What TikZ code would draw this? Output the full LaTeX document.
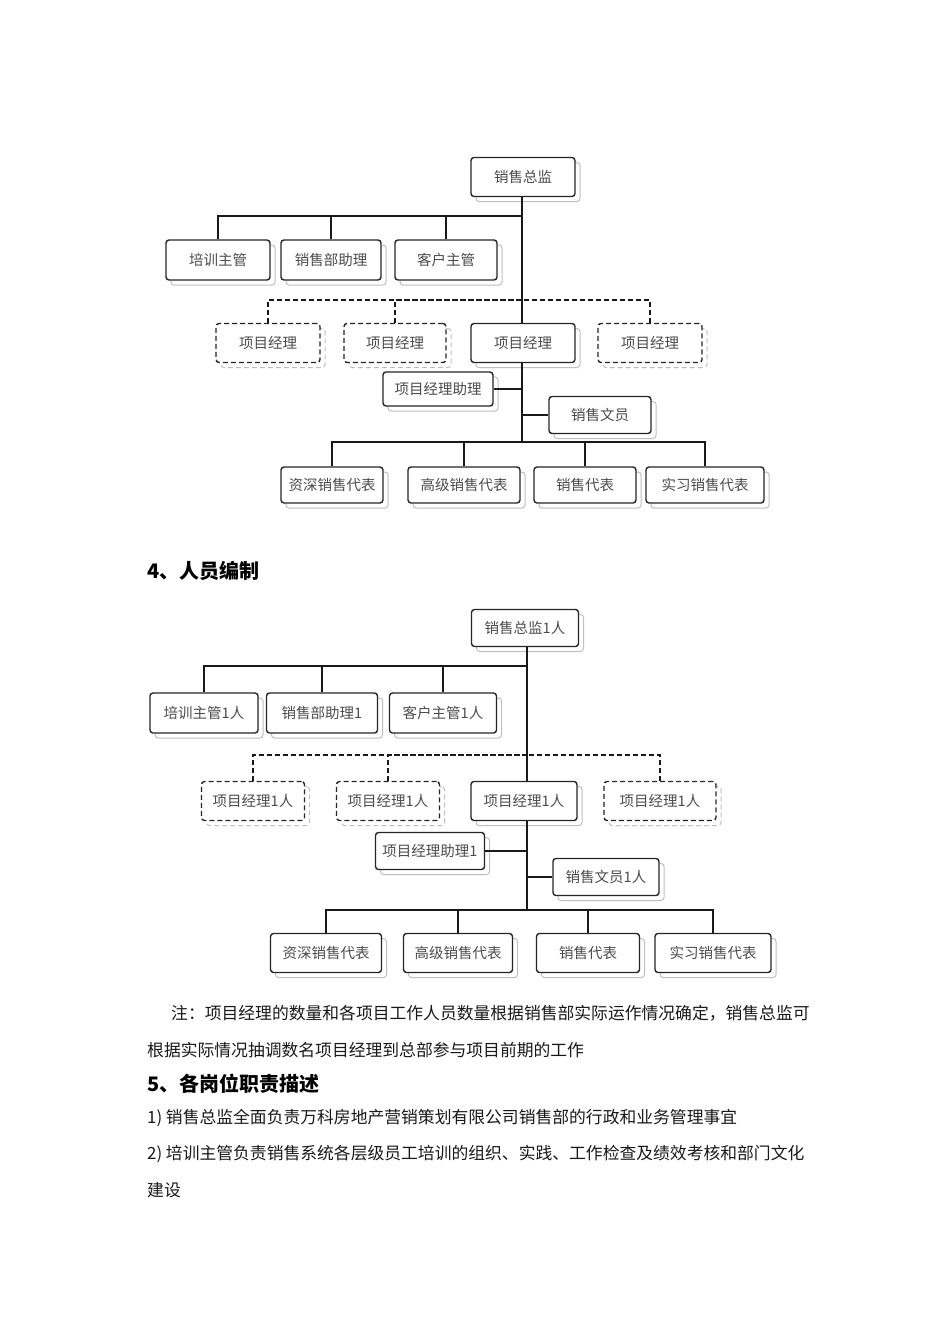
\documentclass[tikz,border=0pt]{standalone}
\usepackage{fontspec}
\setmainfont{Noto Sans CJK SC}
\newfontfamily\hei{Noto Sans CJK SC}
\usetikzlibrary{shadows}
\begin{document}
\begin{tikzpicture}[x=1pt,y=-1pt,
  box/.style={draw=black!85,line width=1.4pt,rounded corners=3pt,fill=white,
    text=black!70,font=\fontsize{14.5}{15}\selectfont,inner sep=0pt,
    drop shadow={shadow xshift=5pt,shadow yshift=-5pt,fill=none,draw=black!25,line width=1pt,opacity=1}},
  dbox/.style={box,dashed,dash pattern=on 5pt off 3pt},
  con/.style={draw=black!90,line width=1.4pt},
  dcon/.style={con,dash pattern=on 5pt off 3pt},
  body/.style={anchor=base west,inner sep=0pt,font=\fontsize{16.8}{17}\selectfont,text=black!90},
  head/.style={anchor=base west,inner sep=0pt,font=\hei\bfseries\fontsize{20}{22}\selectfont}]
\useasboundingbox (0,0) rectangle (950,1344);
\fill[white] (0,0) rectangle (950,1344);

% ---------- chart 1 ----------
\node[box,minimum width=104,minimum height=39] (a0) at (523,177) {销售总监};
\node[box,minimum width=104,minimum height=40] (a1) at (218,260) {培训主管};
\node[box,minimum width=100,minimum height=40] (a2) at (331,260) {销售部助理};
\node[box,minimum width=102,minimum height=40] (a3) at (446,260) {客户主管};
\node[dbox,minimum width=104,minimum height=39] (p1) at (268,343) {项目经理};
\node[dbox,minimum width=102,minimum height=39] (p2) at (395,343) {项目经理};
\node[box,minimum width=104,minimum height=39] (p3) at (523,343) {项目经理};
\node[dbox,minimum width=104,minimum height=39] (p4) at (650,343) {项目经理};
\node[box,minimum width=110,minimum height=34] (as) at (438,389) {项目经理助理};
\node[box,minimum width=102,minimum height=37] (cl) at (600,415) {销售文员};
\node[box,minimum width=102,minimum height=36] (r1) at (332,485) {资深销售代表};
\node[box,minimum width=112,minimum height=36] (r2) at (464,485) {高级销售代表};
\node[box,minimum width=102,minimum height=36] (r3) at (585,485) {销售代表};
\node[box,minimum width=118,minimum height=36] (r4) at (705,485) {实习销售代表};
\coordinate (j1) at (522,216);
\coordinate (j2) at (522,300);
\coordinate (j3) at (522,442);
\draw[con] (a0.south -| j1) -- (p3.north -| j1);
\draw[con] (p3.south -| j1) -- (j3);
\draw[con] (a1.north) |- (j1);
\draw[con] (a2.north) |- (j1);
\draw[con] (a3.north) |- (j1);
\draw[dcon] (p1.north) |- (j2);
\draw[dcon] (p2.north) |- (j2);
\draw[dcon] (p4.north) |- (j2);
\draw[con] (as.east) -- (as.east -| j1);
\draw[con] (cl.west) -- (cl.west -| j1);
\draw[con] (r1.north) |- (j3);
\draw[con] (r2.north) |- (j3);
\draw[con] (r3.north) |- (j3);
\draw[con] (r4.north) |- (j3);

\node[head] (h4) at (147,578) {4、人员编制};

% ---------- chart 2 ----------
\node[box,minimum width=107,minimum height=37] (b0) at (525,628) {销售总监1人};
\node[box,minimum width=108,minimum height=40] (b1) at (204,713) {培训主管1人};
\node[box,minimum width=111,minimum height=40] (b2) at (322,713) {销售部助理1};
\node[box,minimum width=107,minimum height=40] (b3) at (443,713) {客户主管1人};
\node[dbox,minimum width=103,minimum height=39] (q1) at (253,801) {项目经理1人};
\node[dbox,minimum width=103,minimum height=39] (q2) at (388,801) {项目经理1人};
\node[box,minimum width=106,minimum height=39] (q3) at (524,801) {项目经理1人};
\node[dbox,minimum width=112,minimum height=39] (q4) at (660,801) {项目经理1人};
\node[box,minimum width=109,minimum height=37] (bs) at (430,851) {项目经理助理1};
\node[box,minimum width=106,minimum height=37] (bc) at (606,877) {销售文员1人};
\node[box,minimum width=111,minimum height=39] (s1) at (326,953) {资深销售代表};
\node[box,minimum width=109,minimum height=39] (s2) at (458,953) {高级销售代表};
\node[box,minimum width=103,minimum height=39] (s3) at (588,953) {销售代表};
\node[box,minimum width=116,minimum height=39] (s4) at (713,953) {实习销售代表};
\coordinate (k1) at (527,666);
\coordinate (k2) at (527,755);
\coordinate (k3) at (527,910);
\draw[con] (b0.south -| k1) -- (q3.north -| k1);
\draw[con] (q3.south -| k1) -- (k3);
\draw[con] (b1.north) |- (k1);
\draw[con] (b2.north) |- (k1);
\draw[con] (b3.north) |- (k1);
\draw[dcon] (q1.north) |- (k2);
\draw[dcon] (q2.north) |- (k2);
\draw[dcon] (q4.north) |- (k2);
\draw[con] (bs.east) -- (bs.east -| k1);
\draw[con] (bc.west) -- (bc.west -| k1);
\draw[con] (s1.north) |- (k3);
\draw[con] (s2.north) |- (k3);
\draw[con] (s3.north) |- (k3);
\draw[con] (s4.north) |- (k3);

% ---------- text ----------
\node[body] (n1) at (171,1019) {注：项目经理的数量和各项目工作人员数量根据销售部实际运作情况确定，销售总监可};
\node[body] (n2) at (147,1056) {根据实际情况抽调数名项目经理到总部参与项目前期的工作};
\node[head] (h5) at (147,1091) {5、各岗位职责描述};
\node[body] (l1) at (147,1123) {1) 销售总监全面负责万科房地产营销策划有限公司销售部的行政和业务管理事宜};
\node[body] (l2) at (147,1159) {2) 培训主管负责销售系统各层级员工培训的组织、实践、工作检查及绩效考核和部门文化};
\node[body] (l3) at (147,1196) {建设};
\end{tikzpicture}
\end{document}
